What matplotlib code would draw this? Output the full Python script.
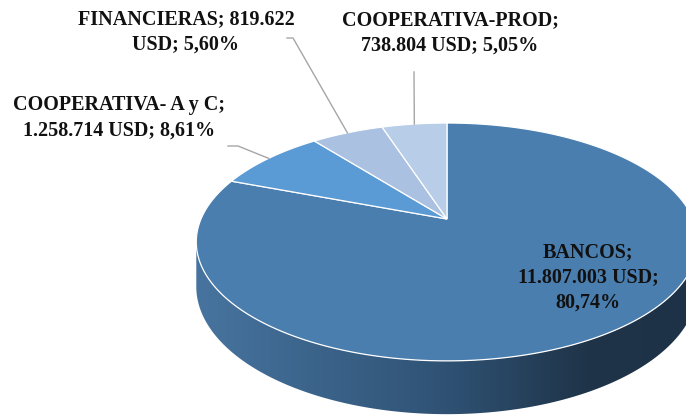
import numpy as np
import matplotlib
matplotlib.use("Agg")
import matplotlib.pyplot as plt
from matplotlib.patches import Polygon
from matplotlib.colors import LinearSegmentedColormap

# data
categories = ["BANCOS", "COOPERATIVA- A y C", "FINANCIERAS", "COOPERATIVA-PROD"]
amounts = [11807003, 1258714, 819622, 738804]
# word index after which the label wraps
label_breaks = [(0, 2), (3,), (1,), (0,)]

top_colors = ["#4A7EAF", "#5B9BD5", "#AAC1E2", "#B7CDE8"]

# label anchors (pixel coords) and leader elbows
label_pos = [(588, 277), (119, 118), (186, 32), (450, 33)]
leader_elbow = [None, [(228, 146), (238, 146)], [(287, 38), (293, 38)], [(414, 72)]]

# fake 3d projection of the pie (pixel coords)
CX, CY = 447, 219
SX, SY = 246, 114.5
K = 0.193
THICK = 43


def project(theta, depth=0.0):
    th = np.radians(theta)
    u = np.sin(th)
    v = -np.cos(th)
    w = 1 - K * v
    return CX + SX * u / w, CY + SY * v / w + depth / w


def fmt_int(n):
    return f"{n:,}".replace(",", ".")


total = sum(amounts)
pcts = [a / total * 100 for a in amounts]

fig = plt.figure(figsize=(6.86, 4.17), dpi=100)
ax = fig.add_axes([0, 0, 1, 1])

# side wall (front half), clockwise from top: front goes 90..270
th = np.linspace(0, 360, 721)
tx, ty = project(th)
bx, by = project(th, THICK)
i_r = np.argmax(tx)
i_l = np.argmin(tx)
front = np.arange(i_r, i_l + 1)
side_x = np.concatenate([tx[front], bx[front][::-1]])
side_y = np.concatenate([ty[front], by[front][::-1]])
side = Polygon(np.column_stack([side_x, side_y]), closed=True, facecolor="none", edgecolor="none")
ax.add_patch(side)
cmap = LinearSegmentedColormap.from_list("side", [(0, "#47749F"), (0.5, "#2F5274"), (0.78, "#1F3449"), (1, "#1E3247")])
grad = np.linspace(0, 1, 256).reshape(1, -1)
im = ax.imshow(grad, cmap=cmap, extent=[tx.min(), tx.max(), 417, 100], aspect="auto", zorder=1)
im.set_clip_path(side)

# top slices, Excel style: start at 12 o'clock, clockwise
start = 0.0
mids = []
for val, col in zip(pcts, top_colors):
    span = val / 100 * 360
    a = np.linspace(start, start + span, max(int(span * 2), 2))
    x, y = project(a)
    xs = np.concatenate([[CX], x])
    ys = np.concatenate([[CY], y])
    ax.add_patch(Polygon(np.column_stack([xs, ys]), closed=True, facecolor=col,
                         edgecolor="white", linewidth=0.9, zorder=2))
    mids.append(start + span / 2)
    start += span

# labels
for i, cat in enumerate(categories):
    words = f"{cat}; {fmt_int(amounts[i])} USD; " + f"{pcts[i]:.2f}".replace(".", ",") + "%"
    parts = words.split(" ")
    txt = ""
    for j, p in enumerate(parts):
        txt += p
        if j < len(parts) - 1:
            txt += "\n" if j in label_breaks[i] else " "
    lx, ly = label_pos[i]
    ax.text(lx, ly, txt, ha="center", va="center", fontsize=14.5, fontweight="bold",
            family="Liberation Serif", color="#111111", linespacing=1.35, zorder=4)
    if leader_elbow[i] is not None:
        ex, ey = project(mids[i])
        pts = leader_elbow[i] + [(ex, ey)]
        ax.plot([p[0] for p in pts], [p[1] for p in pts], color="#A6A6A6", lw=1.0, zorder=3)

ax.set_xlim(0, 686)
ax.set_ylim(417, 0)
ax.axis("off")
fig.savefig("out.png", dpi=100)
